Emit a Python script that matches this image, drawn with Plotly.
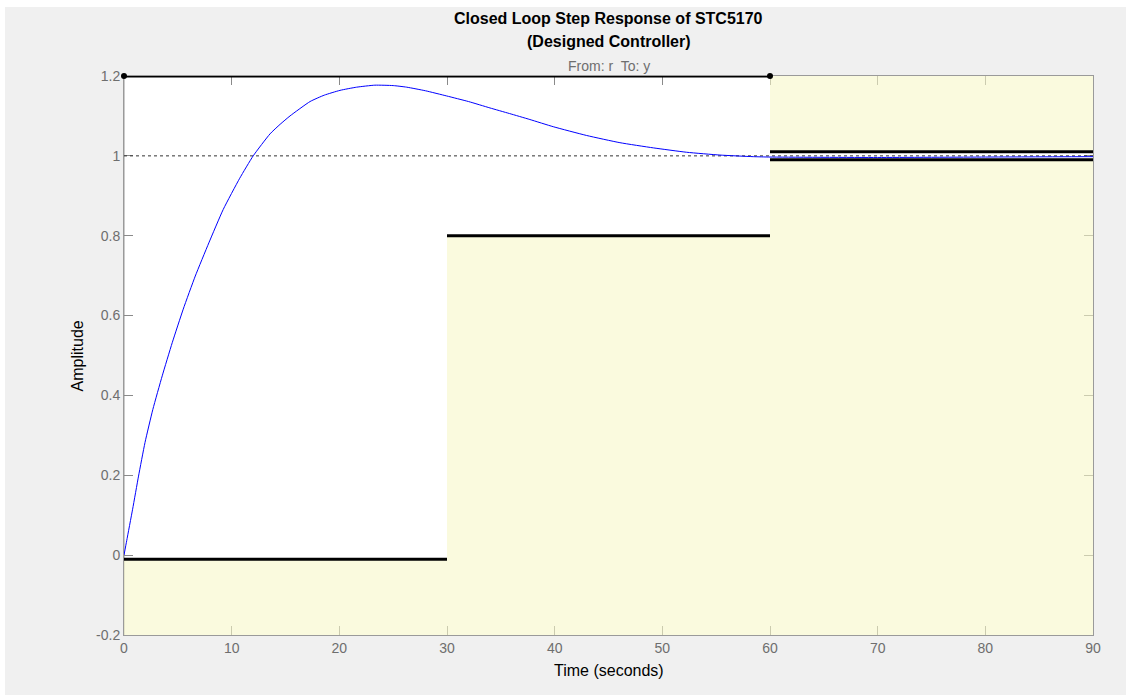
import plotly.graph_objects as go

# Closed-loop step response samples (time in s, output amplitude)
time_s = [0, 0.25, 0.8, 1.35, 1.95, 2.68, 3.55, 4.48, 5.5, 6.62, 7.88, 9.22,
          10.75, 12.0, 13.56, 14.5, 15.42, 17.28, 18.6, 20.06, 21.6, 23.3, 25.0,
          26.26, 28.0, 29.97, 32.0, 33.99, 35.8, 37.7, 39.87, 42.97, 46.06,
          49.16, 52.26, 55.35, 58.45, 60, 70, 80, 90]
amplitude = [0, 0.036, 0.115, 0.198, 0.282, 0.365, 0.449, 0.532, 0.616, 0.699,
             0.782, 0.866, 0.944, 1.0, 1.055, 1.079, 1.100, 1.136, 1.152, 1.164,
             1.172, 1.177, 1.176, 1.172, 1.163, 1.150, 1.136, 1.120, 1.106,
             1.091, 1.073, 1.051, 1.033, 1.020, 1.009, 1.002, 0.998, 0.997,
             0.996, 0.997, 0.998]

# Step-response design requirements (piecewise bounds)
lower_t0 = [0, 30, 60]
lower_t1 = [30, 60, 90]
lower_y = [-0.01, 0.8, 0.99]
upper_t0 = [0, 60]
upper_t1 = [60, 90]
upper_y = [1.2, 1.01]
final_value = 1.0

x_range = [0, 90]
y_range = [-0.2, 1.2]
x_ticks = [0, 10, 20, 30, 40, 50, 60, 70, 80, 90]
y_ticks = [-0.2, 0, 0.2, 0.4, 0.6, 0.8, 1.0, 1.2]
y_tick_labels = ["-0.2", "0", "0.2", "0.4", "0.6", "0.8", "1", "1.2"]

FONT = "Liberation Sans, Arial, Helvetica, sans-serif"
YELLOW = "rgba(247,247,200,0.6)"

fig = go.Figure()

# Shaded regions that violate the requirements
for t0, t1, b in zip(lower_t0, lower_t1, lower_y):
    fig.add_trace(go.Scatter(
        x=[t0, t1, t1, t0, t0], y=[b, b, y_range[0], y_range[0], b],
        fill="toself", fillcolor=YELLOW, mode="lines", line=dict(width=0),
        hoverinfo="skip", showlegend=False))
for t0, t1, b in zip(upper_t0, upper_t1, upper_y):
    fig.add_trace(go.Scatter(
        x=[t0, t1, t1, t0, t0], y=[b, b, y_range[1], y_range[1], b],
        fill="toself", fillcolor=YELLOW, mode="lines", line=dict(width=0),
        hoverinfo="skip", showlegend=False))

# Steady-state reference line
fig.add_trace(go.Scatter(
    x=x_range, y=[final_value, final_value], mode="lines",
    line=dict(color="#333333", width=1, dash="dot"),
    hoverinfo="skip", showlegend=False))

# Bound edges
for t0, t1, b in zip(lower_t0, lower_t1, lower_y):
    fig.add_trace(go.Scatter(
        x=[t0, t1], y=[b, b], mode="lines", line=dict(color="black", width=3),
        cliponaxis=False, showlegend=False))
for i, (t0, t1, b) in enumerate(zip(upper_t0, upper_t1, upper_y)):
    fig.add_trace(go.Scatter(
        x=[t0, t1], y=[b, b], mode="lines+markers" if i == 0 else "lines",
        line=dict(color="black", width=3), marker=dict(color="black", size=6),
        cliponaxis=False, showlegend=False))

# Response curve
fig.add_trace(go.Scatter(
    x=time_s, y=amplitude, mode="lines",
    line=dict(color="rgb(0,0,255)", width=1, shape="spline", smoothing=0.5),
    showlegend=False))

# Thin white border along the top and left of the grey figure panel
fig.add_shape(type="rect", xref="paper", yref="paper",
              x0=-0.2, x1=1.1, y0=1.1234, y1=1.2,
              fillcolor="white", line=dict(width=0), layer="below")
fig.add_shape(type="rect", xref="paper", yref="paper",
              x0=-0.2, x1=-0.1228, y0=-0.2, y1=1.2,
              fillcolor="white", line=dict(width=0), layer="below")
# Left axis line
fig.add_shape(type="line", xref="paper", yref="paper", x0=0, x1=0, y0=0, y1=1,
              line=dict(color="#979797", width=1), layer="below")

axis_common = dict(
    showgrid=False, zeroline=False, ticks="inside", ticklen=9, tickwidth=1,
    tickcolor="#8a8a8a", showline=True, linecolor="#9a9a9a", linewidth=1,
    mirror="ticks", layer="below traces",
    tickfont=dict(family=FONT, size=14, color="#6e6e6e"))

fig.update_xaxes(range=x_range, tickvals=x_ticks, **axis_common)
fig.update_yaxes(range=y_range, tickvals=y_ticks, ticktext=y_tick_labels,
                 **axis_common)

annotations = [
    dict(text="<b>Closed Loop Step Response of STC5170</b>", x=0.5, y=1.102,
         font=dict(size=16, color="black")),
    dict(text="<b>(Designed Controller)</b>", x=0.5, y=1.0626,
         font=dict(size=16, color="black")),
    dict(text="From: r  To: y", x=0.5, y=1.0179,
         font=dict(size=14, color="#6e6e6e")),
    dict(text="Time (seconds)", x=0.5, y=-0.0644,
         font=dict(size=16, color="black")),
    dict(text="Amplitude", x=-0.0475, y=0.5, textangle=-90,
         font=dict(size=16, color="black")),
]
for a in annotations:
    a.update(xref="paper", yref="paper", showarrow=False,
             xanchor="center", yanchor="middle")
    a["font"]["family"] = FONT

fig.update_layout(
    width=1126, height=695,
    margin=dict(l=124, r=33, t=76, b=60),
    paper_bgcolor="#f0f0f0", plot_bgcolor="white",
    annotations=annotations,
    showlegend=False,
)

fig.write_html("out.html")
